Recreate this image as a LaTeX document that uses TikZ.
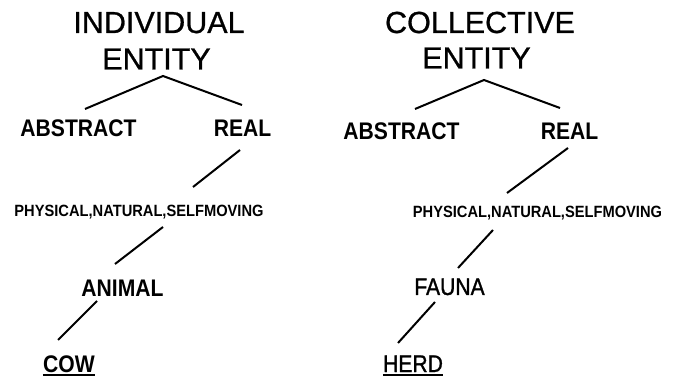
\documentclass[tikz,border=0pt]{standalone}
\usepackage{fontspec}
\setmainfont{Liberation Sans}
\newfontfamily\titlefont[FakeBold=0.8]{Liberation Sans}
\newfontfamily\condfont[FakeStretch=0.88]{Liberation Sans}
\newfontfamily\condmedfont[FakeStretch=0.88,FakeBold=1.2]{Liberation Sans}
\newfontfamily\physfont[FakeStretch=0.9]{Liberation Sans}
\begin{document}
\begin{tikzpicture}[x=1pt,y=-1pt,
  lbl/.style={inner sep=0pt,anchor=base},
  title/.style={lbl,font=\titlefont\fontsize{30.5}{30}\selectfont},
  mid/.style={lbl,font=\condfont\fontsize{24}{24}\selectfont\bfseries},
  midr/.style={lbl,font=\condmedfont\fontsize{24}{24}\selectfont},
  small/.style={lbl,font=\physfont\fontsize{16.3}{16}\selectfont\bfseries},
  link/.style={line width=2pt},
  uline/.style={line width=1.6pt}]
\useasboundingbox (0,0) rectangle (680,379);
% left tree
\node[title] (ind1) at (159,33) {INDIVIDUAL};
\node[title] (ent1) at (156.5,69.5) {ENTITY};
\node[mid] (abs1) at (78.5,137) {ABSTRACT};
\node[mid] (real1) at (242.5,137) {REAL};
\node[small] (phys1) at (139,217) {PHYSICAL,NATURAL,SELFMOVING};
\node[mid] (anim1) at (122.5,297) {ANIMAL};
\node[mid] (cow1) at (69,372) {COW};
\draw[link] ([shift={(6.5,-28)}]abs1.base) -- ([shift={(6.5,6.5)}]ent1.base) -- ([shift={(-0.5,-32)}]real1.base);
\draw[link] ([shift={(-2.5,13)}]real1.base) -- ([shift={(54,-30)}]phys1.base);
\draw[link] ([shift={(24,10)}]phys1.base) -- ([shift={(-7.5,-33)}]anim1.base);
\draw[link] ([shift={(-25.5,4)}]anim1.base) -- ([shift={(-11,-32)}]cow1.base);
\draw[uline] ([shift={(0,3)}]cow1.base west) -- ([shift={(0,3)}]cow1.base east);
% right tree
\node[title] (col2) at (480,33) {COLLECTIVE};
\node[title] (ent2) at (476.5,68.5) {ENTITY};
\node[mid] (abs2) at (401.5,140) {ABSTRACT};
\node[mid] (real2) at (569.5,140) {REAL};
\node[small] (phys2) at (537.5,218) {PHYSICAL,NATURAL,SELFMOVING};
\node[midr] (fauna2) at (449.5,295) {FAUNA};
\node[midr] (herd2) at (413,372) {HERD};
\draw[link] ([shift={(13.5,-31)}]abs2.base) -- ([shift={(7.5,11.5)}]ent2.base) -- ([shift={(-9.5,-32)}]real2.base);
\draw[link] ([shift={(-1.5,8)}]real2.base) -- ([shift={(-30.5,-25)}]phys2.base);
\draw[link] ([shift={(-44.5,12)}]phys2.base) -- ([shift={(8.5,-27)}]fauna2.base);
\draw[link] ([shift={(-14.5,7)}]fauna2.base) -- ([shift={(-15,-29)}]herd2.base);
\draw[uline] ([shift={(0,3)}]herd2.base west) -- ([shift={(0,3)}]herd2.base east);
\end{tikzpicture}
\end{document}
